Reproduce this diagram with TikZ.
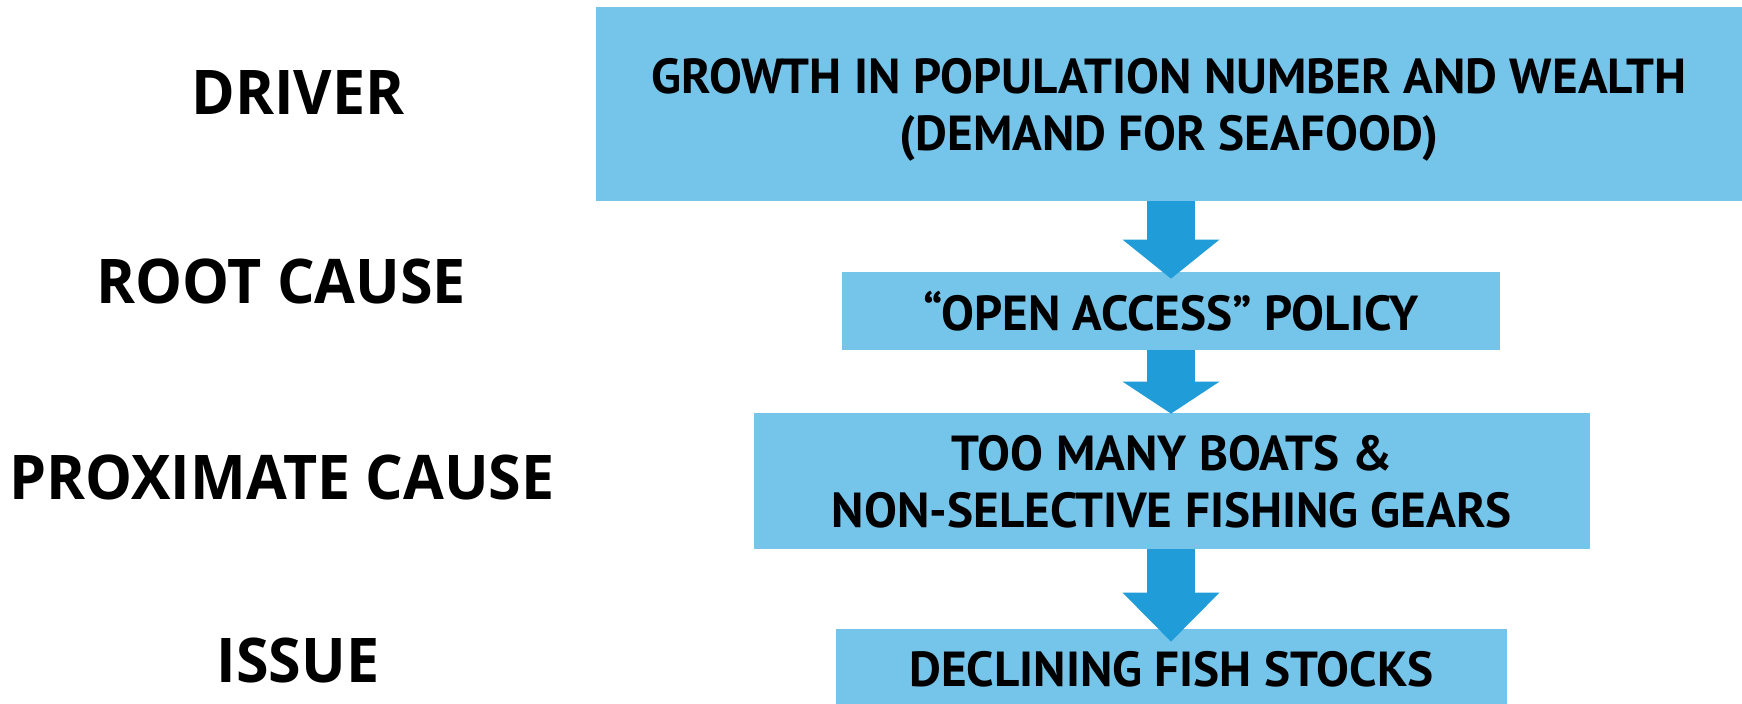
\documentclass[tikz,border=0pt]{standalone}
\usepackage{fontspec}
\setmainfont[FakeStretch=0.96]{Open Sans}
\newfontfamily\boxfont{PT Sans}
\usepackage{tikz}
\usetikzlibrary{arrows.meta, positioning}

\definecolor{boxblue}{HTML}{75C4EA}
\definecolor{arrowblue}{HTML}{209CD8}

\begin{document}
\begin{tikzpicture}[
  x=0.5pt, y=-0.5pt,
  level/.style={font=\fontsize{30.8}{36}\selectfont\bfseries, anchor=base, inner sep=0pt},
  stage/.style={fill=boxblue, inner sep=0pt, align=center, text depth=0pt,
    font=\boxfont\fontsize{24.6}{28.5}\selectfont\bfseries},
  flow/.style={arrowblue, line width=24pt,
    -{Triangle[width=48.5pt, length=#1, line width=0pt]}}
]
\useasboundingbox (0,0) rectangle (1742,703);
% levels on the left
\node [level] (driver) at (298,114) {DRIVER};
\node [level] (root) at (281,303) {ROOT CAUSE};
\node [level] (proximate) at (282,499) {PROXIMATE CAUSE};
\node [level] (issue) at (298,682) {ISSUE};
% boxes
\node [stage, minimum width=573pt, minimum height=96.8pt] (demand) at (1169,104)
  {GROWTH IN POPULATION NUMBER AND WEALTH\\(DEMAND FOR SEAFOOD)};
\node [stage, minimum width=329pt, minimum height=39pt] (policy) at (1171,311)
  {“OPEN ACCESS” POLICY};
\node [stage, minimum width=418pt, minimum height=68pt] (boats) at (1172,481)
  {TOO MANY BOATS \&\\NON-SELECTIVE FISHING GEARS};
\node [stage, minimum width=335.5pt, minimum height=40pt] (stocks) at (1171.5,669)
  {DECLINING FISH STOCKS};
% arrows
\draw [flow=19.5pt] (demand.south -| policy.north) -- ([yshift=-3.5pt]policy.north);
\draw [flow=16pt] (policy.south) -- ([yshift=-0.5pt]boats.north -| policy.south);
\draw [flow=24.5pt] (boats.south -| policy.south) -- ([yshift=-6.5pt]stocks.north -| policy.south);
\end{tikzpicture}
\end{document}
